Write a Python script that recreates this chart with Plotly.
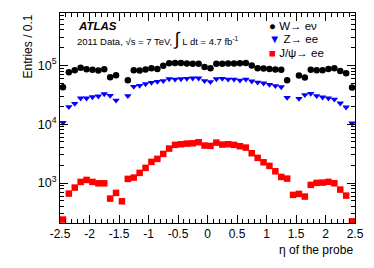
import plotly.graph_objects as go

# bin centres in eta (bin width 0.1)
eta = [-2.45, -2.35, -2.25, -2.15, -2.05, -1.95, -1.85, -1.75, -1.65, -1.55,
       -1.45, -1.35, -1.25, -1.15, -1.05, -0.95, -0.85, -0.75, -0.65, -0.55,
       -0.45, -0.35, -0.25, -0.15, -0.05, 0.05, 0.15, 0.25, 0.35, 0.45,
       0.55, 0.65, 0.75, 0.85, 0.95, 1.05, 1.15, 1.25, 1.35, 1.45,
       1.55, 1.65, 1.75, 1.85, 1.95, 2.05, 2.15, 2.25, 2.35, 2.45]

w_enu = [42500, 76400, 82600, 90600, 85900, 83800, 81600, 85900, 62800, 67900,
         None, 55800, 82600, 81600, 84900, 89300, 87100, 98000, 108600, 110000,
         110000, 107300, 106000, 106000, 94200, 89300, 106000, 106000, 107300, 107300,
         108600, 110000, 99300, 89300, 88300, 87100, 84900, 83800, 55800, None,
         67100, 62100, 83800, 82600, 82600, 87100, 89300, 80500, 73400, 41900]

z_ee = [10600, 19700, 22400, 27600, 27600, 29100, 29900, 32700, 30600, 25500,
        None, 30300, 43600, 45400, 48400, 50900, 53000, 54500, 58900, 58000,
        58900, 59700, 60400, 60400, 54500, 52400, 58900, 59700, 58000, 58000,
        55800, 58000, 53700, 51600, 49700, 47100, 44800, 43000, 28300, None,
        27200, 31500, 33100, 30300, 28700, 27600, 26500, 22700, 19400, 10400]

jpsi_ee = [239, 661, 836, 1043, 1128, 1043, 988, 988, 543, 679,
           489, 1175, 1236, 1486, 1807, 2286, 2570, 3120, 3846, 4446,
           4560, 4677, 4740, 4930, 4330, 4270, 4860, 4500, 4560, 4446,
           4217, 4000, 3204, 2673, 2249, 1954, 1582, 1268, 1188, 628,
           653, 588, 929, 1004, 1016, 1045, 988, 773, 611, 223]

x_tickvals = [-2.5, -2, -1.5, -1, -0.5, 0, 0.5, 1, 1.5, 2, 2.5]
x_ticktext = ["-2.5", "-2", "-1.5", "-1", "-0.5", "0", "0.5", "1", "1.5", "2", "2.5"]
y_tickvals = [1e3, 1e4, 1e5]
y_ticktext = ["10<sup>3</sup>", "10<sup>4</sup>", "10<sup>5</sup>"]
y_minor = [m * 10 ** e for e in (2, 3, 4, 5) for m in range(2, 10) if 210 < m * 10 ** e < 7.8e5]

FONT = "Liberation Sans, Arial, sans-serif"

fig = go.Figure()

def add(y, name, symbol, color, ecolor):
    fig.add_trace(go.Scatter(
        x=eta, y=y, mode="markers", name=name,
        marker=dict(symbol=symbol, size=6.5, color=color, line=dict(width=0)),
        error_x=dict(type="constant", value=0.05, color=ecolor, thickness=1, width=0),
        showlegend=False,
    ))

add(w_enu, "W→ eν", "circle", "black", "#d0d000")
add(z_ee, "Z→ ee", "triangle-down", "#0000ff", "#ff66cc")
add(jpsi_ee, "J/ψ→ ee", "square", "#ff0000", "#33aaaa")

fig.update_layout(
    template="simple_white",
    width=374, height=268, autosize=False,
    margin=dict(l=60, r=19, t=13, b=45, autoexpand=False),
    paper_bgcolor="white", plot_bgcolor="white",
    font=dict(family=FONT, size=11, color="black"),
    showlegend=False,
)

fig.update_xaxes(
    automargin=False,
    range=[-2.5, 2.5], showgrid=False, zeroline=False,
    showline=True, linecolor="black", linewidth=1, mirror="ticks",
    tickmode="array", tickvals=x_tickvals, ticktext=x_ticktext,
    ticks="inside", ticklen=8, tickcolor="black",
    minor=dict(dtick=0.1, tick0=0, ticks="inside", ticklen=4, tickcolor="black"),
    tickfont=dict(size=12),
)
fig.update_yaxes(
    automargin=False,
    type="log", range=[2.32, 5.89], showgrid=False, zeroline=False,
    showline=True, linecolor="black", linewidth=1, mirror="ticks",
    tickmode="array", tickvals=y_tickvals, ticktext=y_ticktext,
    ticks="inside", ticklen=8, tickcolor="black",
    minor=dict(tickmode="array", tickvals=y_minor, ticks="inside", ticklen=4, tickcolor="black"),
    tickfont=dict(size=12.5),
)

# axis titles (ROOT style alignment)
fig.add_annotation(text="η of the probe", xref="paper", yref="paper",
                   x=1, y=-0.085, xanchor="right", yanchor="top",
                   showarrow=False, font=dict(size=12))
fig.add_annotation(text="Entries / 0.1", xref="paper", yref="paper",
                   x=-0.11, y=1, xanchor="center", yanchor="top", textangle=-90,
                   showarrow=False, font=dict(size=12))

# ATLAS label
fig.add_annotation(text="<b><i>ATLAS</i></b>", xref="paper", yref="paper",
                   x=0.055, y=0.94, xanchor="left", yanchor="middle",
                   showarrow=False, font=dict(size=11.5))
fig.add_annotation(
    text="2011 Data, √s = 7 TeV, <span style='font-size:18px'>∫</span> L dt = 4.7 fb<sup>-1</sup>",
    xref="paper", yref="paper", x=0.05, y=0.875, xanchor="left", yanchor="middle",
    showarrow=False, font=dict(size=9.5))

# legend (text entries)
leg = [("●", "black", "W→ eν"), ("▼", "#0000ff", "Z→ ee"), ("■", "#ff0000", "J/ψ→ ee")]
for k, (g, c, t) in enumerate(leg):
    fig.add_annotation(
        text=f"<span style='color:{c}'>{g}</span> {t}",
        xref="paper", yref="paper", x=0.7, y=0.94 - 0.066 * k,
        xanchor="left", yanchor="middle", showarrow=False, font=dict(size=11.5))

fig.write_html("out.html", config={"displayModeBar": False},
               post_script="document.body.style.margin='0';document.body.style.padding='0';")
